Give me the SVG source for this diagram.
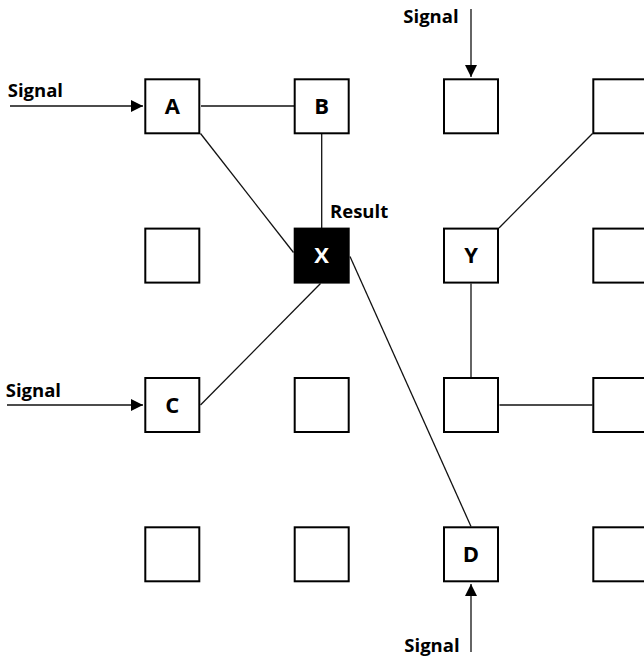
<svg xmlns="http://www.w3.org/2000/svg" width="644" height="658" viewBox="0 0 644 658">
<style>
.box{fill:#fff;stroke:#000;stroke-width:2}
.dark{fill:#000;stroke:#000;stroke-width:2}
.lbl{font-family:"Open Sans","Noto Sans",sans-serif;font-weight:bold;font-size:22px;text-anchor:middle;fill:#000}
.lblw{fill:#fff}
.sig{font-family:"Open Sans","Noto Sans",sans-serif;font-weight:bold;font-size:18.5px;fill:#000}
.con{stroke:#111;stroke-width:1.3;fill:none}
</style>
<defs>
<marker id="ah" viewBox="0 0 12 12" refX="12" refY="6" markerWidth="12" markerHeight="12" markerUnits="userSpaceOnUse" orient="auto">
<path d="M0,0 L12,6 L0,12 Z" fill="#000"/>
</marker>
</defs>
<rect width="644" height="658" fill="#fff"/>
<g id="connectors">
<line class="con" x1="201" y1="106" x2="294" y2="106"/>
<line class="con" x1="200.5" y1="133.5" x2="293.5" y2="252.5"/>
<line class="con" x1="321.7" y1="134" x2="321.7" y2="228"/>
<line class="con" x1="320.5" y1="283.5" x2="200.5" y2="405"/>
<line class="con" x1="350" y1="256.5" x2="471" y2="526.5"/>
<line class="con" x1="499" y1="228" x2="592.5" y2="133.5"/>
<line class="con" x1="471" y1="283.5" x2="471" y2="377"/>
<line class="con" x1="499.5" y1="405" x2="592.5" y2="405"/>
<line class="con" x1="10" y1="106" x2="143" y2="106" marker-end="url(#ah)"/>
<line class="con" x1="7" y1="405" x2="143" y2="405" marker-end="url(#ah)"/>
<line class="con" x1="471" y1="9" x2="471" y2="77" marker-end="url(#ah)"/>
<line class="con" x1="471" y1="652" x2="471" y2="584" marker-end="url(#ah)"/>
</g>
<g id="labels">
<text class="sig" x="7.7" y="97">Signal</text>
<text class="sig" x="5.7" y="396.5">Signal</text>
<text class="sig" x="403.3" y="23.3">Signal</text>
<text class="sig" x="404.3" y="651.5">Signal</text>
<text class="sig" x="330" y="218.3">Result</text>
</g>
<g id="node-A"><rect class="box" x="145.3" y="79.3" width="54" height="54"/><text class="lbl" x="172.3" y="114">A</text></g>
<g id="node-B"><rect class="box" x="294.7" y="79.3" width="54" height="54"/><text class="lbl" x="321.7" y="114">B</text></g>
<g id="node-r1c3"><rect class="box" x="444" y="79.3" width="54" height="54"/></g>
<g id="node-r1c4"><rect class="box" x="593.3" y="79.3" width="54" height="54"/></g>
<g id="node-r2c1"><rect class="box" x="145.3" y="228.6" width="54" height="54"/></g>
<g id="node-X"><rect class="dark" x="294.7" y="228.6" width="54" height="54"/><text class="lbl lblw" x="321.7" y="263.3">X</text></g>
<g id="node-Y"><rect class="box" x="444" y="228.6" width="54" height="54"/><text class="lbl" x="471" y="263.3">Y</text></g>
<g id="node-r2c4"><rect class="box" x="593.3" y="228.6" width="54" height="54"/></g>
<g id="node-C"><rect class="box" x="145.3" y="378" width="54" height="54"/><text class="lbl" x="172.3" y="412.7">C</text></g>
<g id="node-r3c2"><rect class="box" x="294.7" y="378" width="54" height="54"/></g>
<g id="node-r3c3"><rect class="box" x="444" y="378" width="54" height="54"/></g>
<g id="node-r3c4"><rect class="box" x="593.3" y="378" width="54" height="54"/></g>
<g id="node-r4c1"><rect class="box" x="145.3" y="527.3" width="54" height="54"/></g>
<g id="node-r4c2"><rect class="box" x="294.7" y="527.3" width="54" height="54"/></g>
<g id="node-D"><rect class="box" x="444" y="527.3" width="54" height="54"/><text class="lbl" x="471" y="562">D</text></g>
<g id="node-r4c4"><rect class="box" x="593.3" y="527.3" width="54" height="54"/></g>
</svg>
